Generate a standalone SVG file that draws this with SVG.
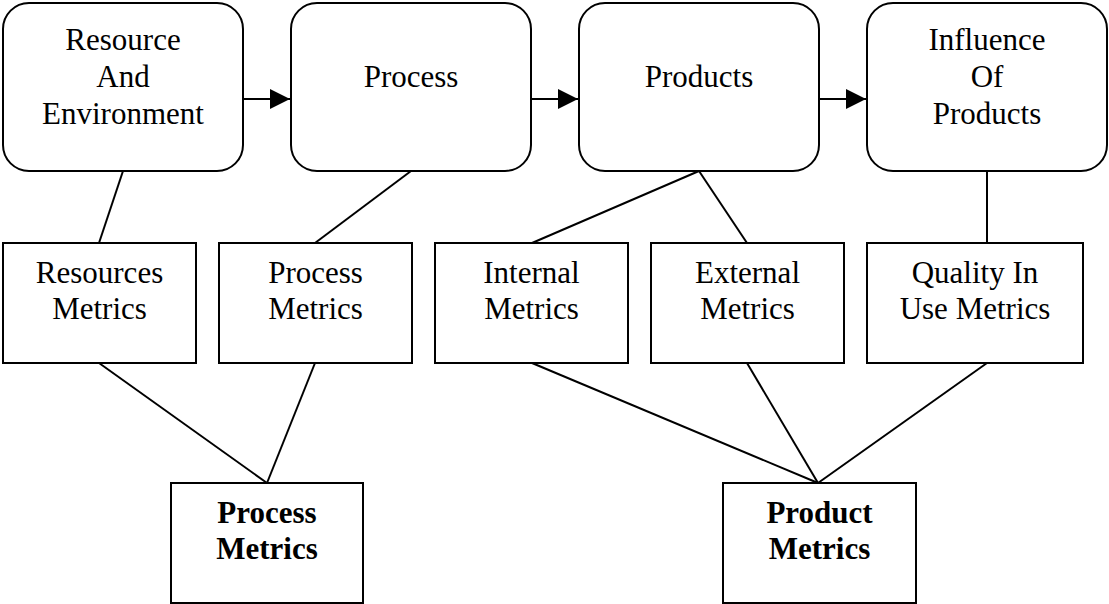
<svg xmlns="http://www.w3.org/2000/svg" width="1109" height="604" viewBox="0 0 1109 604">
<defs>
<style>
.rbox{fill:#fff;stroke:#000;stroke-width:2}
.box{fill:#fff;stroke:#000;stroke-width:2}
.lbl{font-family:'Liberation Serif','DejaVu Serif',serif;font-size:31px;fill:#000;text-anchor:middle}
.b{font-weight:bold}
.ln{stroke:#000;stroke-width:2;fill:none}
</style>
<marker id="ah" markerWidth="20" markerHeight="20" refX="20" refY="10" orient="auto" markerUnits="userSpaceOnUse" viewBox="0 0 20 20">
<path d="M0,0 L20,10 L0,20 Z" fill="#000"/>
</marker>
</defs>
<rect width="1109" height="604" fill="#fff"/>
<g id="connectors">
<line class="ln" x1="243" y1="99" x2="290" y2="99" marker-end="url(#ah)"/>
<line class="ln" x1="531" y1="99" x2="578" y2="99" marker-end="url(#ah)"/>
<line class="ln" x1="819" y1="99" x2="866" y2="99" marker-end="url(#ah)"/>
<line class="ln" x1="123" y1="171" x2="99" y2="243"/>
<line class="ln" x1="411" y1="171" x2="315" y2="243"/>
<line class="ln" x1="699" y1="171" x2="532" y2="243"/>
<line class="ln" x1="699" y1="171" x2="747" y2="243"/>
<line class="ln" x1="987" y1="171" x2="987" y2="243"/>
<line class="ln" x1="99" y1="363" x2="267" y2="483"/>
<line class="ln" x1="315" y1="363" x2="267" y2="483"/>
<line class="ln" x1="532" y1="363" x2="818" y2="483"/>
<line class="ln" x1="747" y1="363" x2="818" y2="483"/>
<line class="ln" x1="987" y1="363" x2="818" y2="483"/>
</g>
<g id="resource-env">
<rect class="rbox" x="3" y="3" width="240" height="168" rx="26" ry="26"/>
<text class="lbl" x="123" y="50">Resource</text>
<text class="lbl" x="123" y="87">And</text>
<text class="lbl" x="123" y="124">Environment</text>
</g>
<g id="process">
<rect class="rbox" x="291" y="3" width="240" height="168" rx="26" ry="26"/>
<text class="lbl" x="411" y="87">Process</text>
</g>
<g id="products">
<rect class="rbox" x="579" y="3" width="240" height="168" rx="26" ry="26"/>
<text class="lbl" x="699" y="87">Products</text>
</g>
<g id="influence">
<rect class="rbox" x="867" y="3" width="240" height="168" rx="26" ry="26"/>
<text class="lbl" x="987" y="50">Influence</text>
<text class="lbl" x="987" y="87">Of</text>
<text class="lbl" x="987" y="124">Products</text>
</g>
<g id="resources-metrics">
<rect class="box" x="3" y="243" width="193" height="120"/>
<text class="lbl" x="99.5" y="283">Resources</text>
<text class="lbl" x="99.5" y="319">Metrics</text>
</g>
<g id="process-metrics-mid">
<rect class="box" x="219" y="243" width="193" height="120"/>
<text class="lbl" x="315.5" y="283">Process</text>
<text class="lbl" x="315.5" y="319">Metrics</text>
</g>
<g id="internal-metrics">
<rect class="box" x="435" y="243" width="193" height="120"/>
<text class="lbl" x="531.5" y="283">Internal</text>
<text class="lbl" x="531.5" y="319">Metrics</text>
</g>
<g id="external-metrics">
<rect class="box" x="651" y="243" width="193" height="120"/>
<text class="lbl" x="747.5" y="283">External</text>
<text class="lbl" x="747.5" y="319">Metrics</text>
</g>
<g id="quality-metrics">
<rect class="box" x="867" y="243" width="216" height="120"/>
<text class="lbl" x="975" y="283">Quality In</text>
<text class="lbl" x="975" y="319">Use Metrics</text>
</g>
<g id="process-metrics">
<rect class="box" x="171" y="483" width="192" height="120"/>
<text class="lbl b" x="267" y="523">Process</text>
<text class="lbl b" x="267" y="559">Metrics</text>
</g>
<g id="product-metrics">
<rect class="box" x="723" y="483" width="193" height="120"/>
<text class="lbl b" x="819.5" y="523">Product</text>
<text class="lbl b" x="819.5" y="559">Metrics</text>
</g>
</svg>
